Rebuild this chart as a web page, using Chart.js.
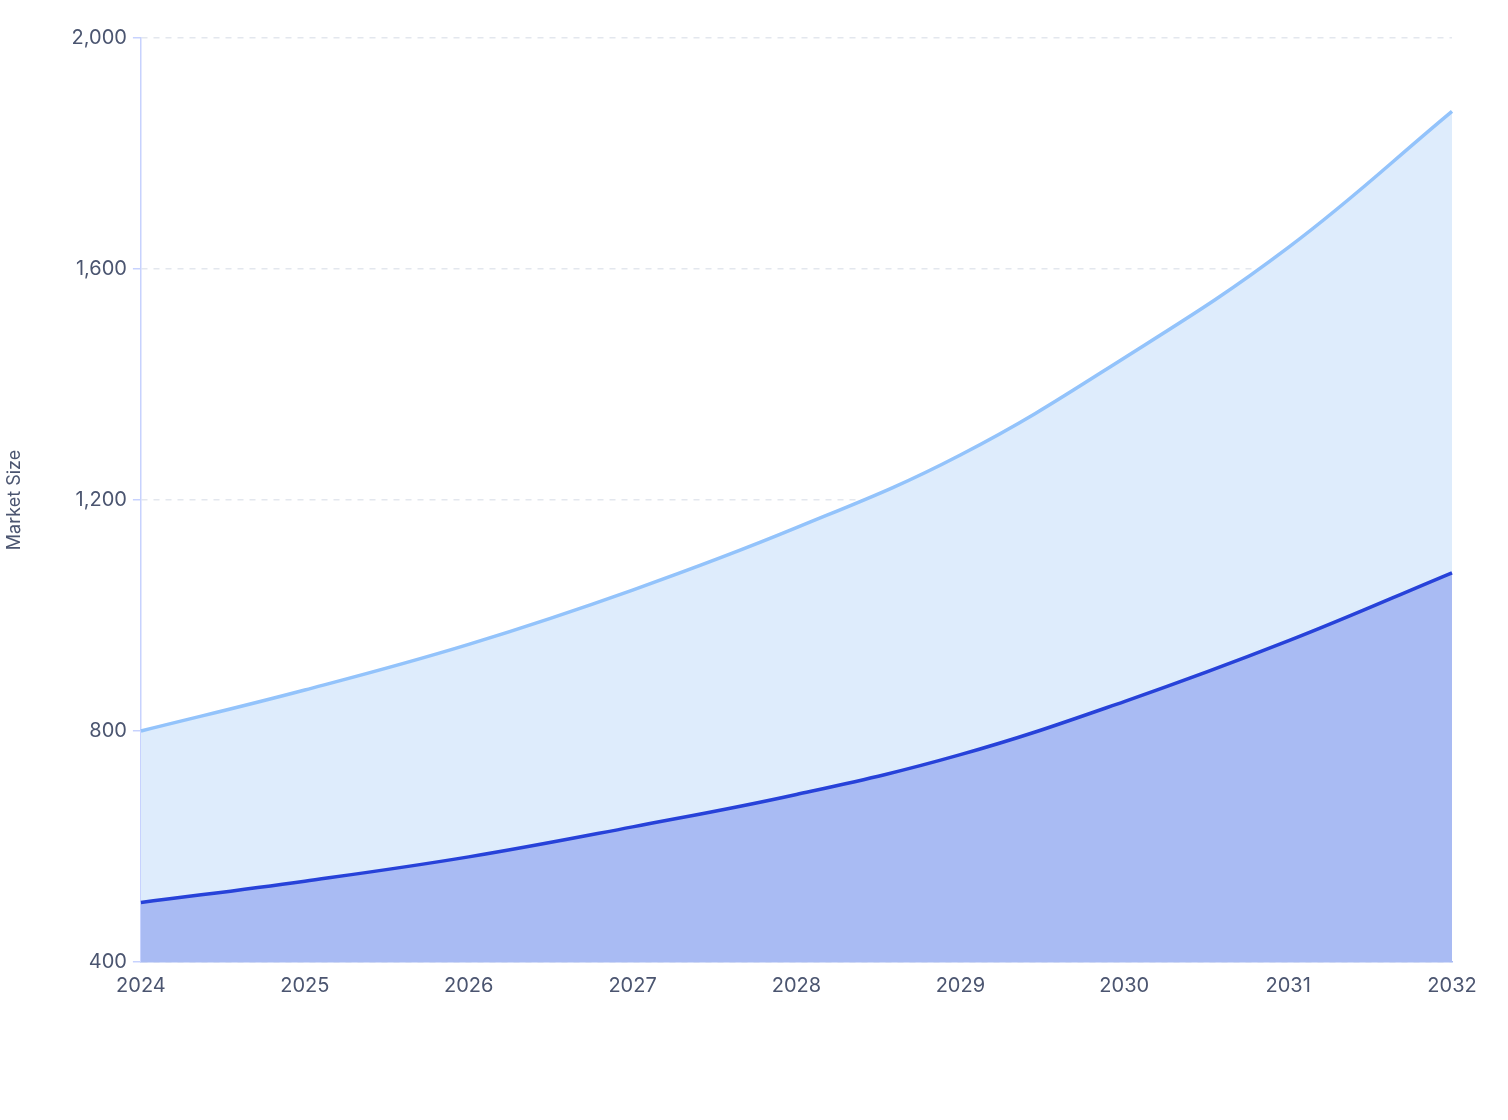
<!DOCTYPE html>
<html lang="en">
<head>
<meta charset="UTF-8">
<title>Market Size</title>
<style>
  html, body { margin: 0; padding: 0; background: #fff; }
  #wrap { width: 1508px; height: 1120px; }
</style>
</head>
<body>
<div id="wrap"><canvas id="myChart"></canvas></div>
<script src="https://cdn.jsdelivr.net/npm/chart.js"></script>
<script>
const years = ['2024','2025','2026','2027','2028','2029','2030','2031','2032'];
const lowerSeries = [503, 540, 582, 634, 690, 759, 851, 956, 1074];
const upperSeries = [800, 871, 950, 1044, 1152, 1278, 1446, 1637, 1873];
const yTicks = [400, 800, 1200, 1600, 2000];

const tickColor = '#4b5570';
const ctx = document.querySelector('#myChart');
new Chart(ctx, {
  type: 'line',
  data: {
    labels: years,
    datasets: [{
      label: 'Lower',
      data: lowerSeries,
      borderColor: '#2742d9',
      backgroundColor: '#a9bbf3',
      borderWidth: 3.5,
      fill: 'origin',
      tension: 0.4,
      pointRadius: 0
    }, {
      label: 'Upper',
      data: upperSeries,
      borderColor: '#93c3fb',
      backgroundColor: '#deecfc',
      borderWidth: 3.5,
      fill: '-1',
      tension: 0.4,
      pointRadius: 0
    }]
  },
  options: {
    responsive: true,
    maintainAspectRatio: false,
    animation: false,
    layout: { padding: { top: 38, right: 56, bottom: 118, left: 0 } },
    plugins: { legend: { display: false }, tooltip: { enabled: false } },
    scales: {
      x: {
        grid: { display: false, drawTicks: true },
        border: { color: '#a9bbf3', width: 1.5 },
        ticks: { color: tickColor, font: { family: 'Inter', size: 20 }, padding: 4, maxRotation: 0 }
      },
      y: {
        min: 400, max: 2000,
        afterBuildTicks: axis => { axis.ticks = yTicks.map(v => ({ value: v })); },
        grid: { color: '#e3e7ee', lineWidth: 1.5, drawTicks: true, tickLength: 8, tickColor: '#c7d2fe' },
        border: { color: '#c7d2fe', width: 1.5, dash: [6, 6] },
        ticks: {
          color: tickColor, font: { family: 'Inter', size: 20 }, padding: 6,
          callback: v => v.toLocaleString('en-US')
        },
        title: { display: true, text: 'Market Size', color: tickColor, font: { family: 'Inter', size: 18 }, padding: { bottom: 40 } }
      }
    }
  }
});
</script>
</body>
</html>
